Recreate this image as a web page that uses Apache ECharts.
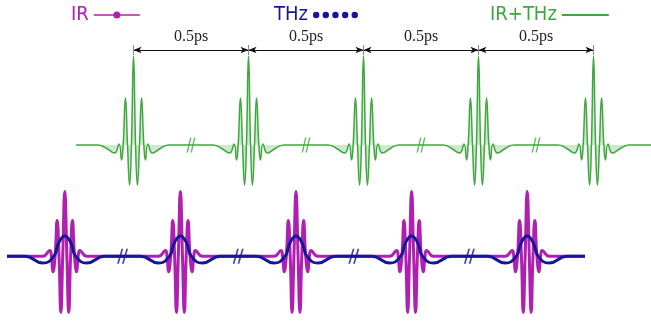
<!DOCTYPE html>
<html>
<head>
<meta charset="utf-8">
<script src="https://cdn.jsdelivr.net/npm/echarts@6/dist/echarts.min.js"></script>
<style>
  html, body { margin: 0; padding: 0; background: #fff; }
  #chart { width: 651px; height: 324px; }
</style>
</head>
<body>
<div id="chart"></div>
<script>
  // pulse centres and break marks, in fs
  var pulseCenters = [0, 500, 1000, 1500, 2000]
  var breakTimes = [250, 750, 1250, 1750]
  var spanLabel = '0.5ps'

  // IR+THz pulse (top trace): time offset (fs) / amplitude
  var mixT = [-155, -120, -82, -63, -52, -45, -35, -26, -17, -9, 0, 9, 17, 26, 35, 45, 52, 63, 82, 120, 155]
  var mixV = [0, -3, -8, 1, -15, 0, 47, 0, -40, 0, 89, 0, -40, 0, 47, 0, -15, 1, -8, -3, 0]

  // IR pulse (bottom, purple)
  var irT = [-95, -65, -58, -51, -42, -33, -25, -17, -9, 0, 9, 17, 25, 33, 42, 51, 58, 65, 95]
  var irV = [0, 6, 0, -16, 0, 37, 0, -58, 0, 67, 0, -58, 0, 37, 0, -16, 0, 6, 0]

  // THz pulse (bottom, blue)
  var thzT = [-173, -95, -48, -26, 0, 26, 48, 95, 173]
  var thzV = [0, -7, 0, 14, 21, 14, 0, -7, 0]

  var GREEN = '#3ea83e'
  var PURPLE = '#b020b0'
  var NAVY = '#16169c'

  function train(offs, vals) {
    var pts = [[-250, 0]]
    pulseCenters.forEach(function (c) {
      offs.forEach(function (o, i) {
        pts.push([c + o, vals[i]])
      })
    })
    pts.push([2250, 0])
    return pts
  }

  var breakPath = 'path://M0,14 L4,0 L5.6,0 L1.6,14 Z M4.4,14 L8.4,0 L10,0 L6,14 Z'
  var breakPts = breakTimes.map(function (t) { return [t, 0] })

  // dimension arrows + ticks above the top trace
  var dimLines = []
  for (var i = 0; i < pulseCenters.length - 1; i++) {
    dimLines.push([
      { name: spanLabel, coord: [pulseCenters[i], 95], symbol: 'arrow', label: { show: true } },
      { coord: [pulseCenters[i + 1], 95], symbol: 'arrow' }
    ])
  }
  pulseCenters.forEach(function (c) {
    dimLines.push([
      { coord: [c, 90], symbol: 'none', lineStyle: { color: '#888' }, label: { show: false } },
      { coord: [c, 100], symbol: 'none' }
    ])
  })

  var legendFont = "'Liberation Sans Narrow', 'DejaVu Sans Condensed', sans-serif"
  var irIcon = 'path://M0,4.2 L46,4.2 L46,5.8 L0,5.8 Z M26.5,5 A3.5,3.5 0 1 1 19.5,5 A3.5,3.5 0 1 1 26.5,5 Z'
  var thzIcon = 'path://M6.4,3.2 A3.2,3.2 0 1 1 0,3.2 A3.2,3.2 0 1 1 6.4,3.2 Z' +
    'M16,3.2 A3.2,3.2 0 1 1 9.6,3.2 A3.2,3.2 0 1 1 16,3.2 Z' +
    'M25.7,3.2 A3.2,3.2 0 1 1 19.3,3.2 A3.2,3.2 0 1 1 25.7,3.2 Z' +
    'M35.4,3.2 A3.2,3.2 0 1 1 29,3.2 A3.2,3.2 0 1 1 35.4,3.2 Z' +
    'M45,3.2 A3.2,3.2 0 1 1 38.6,3.2 A3.2,3.2 0 1 1 45,3.2 Z'
  var mixIcon = 'path://M0,0 L47,0 L47,2 L0,2 Z'

  function legendAt(name, icon, left, w, h, color) {
    return {
      data: [{ name: name, icon: icon }],
      left: left,
      top: 5,
      padding: 0,
      align: 'right',
      itemWidth: w,
      itemHeight: h,
      selectedMode: false,
      textStyle: { color: color, fontSize: 20, fontFamily: legendFont }
    }
  }

  var chart = echarts.init(document.getElementById('chart'))
  chart.setOption({
    animation: false,
    backgroundColor: '#fff',
    legend: [
      legendAt('IR', irIcon, 71, 46, 7, PURPLE),
      legendAt('THz', thzIcon, 274, 45, 6.4, NAVY),
      legendAt('IR+THz', mixIcon, 490, 47, 2, GREEN)
    ],
    grid: [
      { left: 76, width: 578, top: 45, height: 150 },
      { left: 7, width: 578, top: 179, height: 150 }
    ],
    xAxis: [
      { type: 'value', gridIndex: 0, min: -250, max: 2250, show: false },
      { type: 'value', gridIndex: 1, min: -250, max: 2250, show: false }
    ],
    yAxis: [
      { type: 'value', gridIndex: 0, min: -50, max: 100, show: false },
      { type: 'value', gridIndex: 1, min: -70, max: 80, show: false }
    ],
    series: [
      {
        name: 'IR+THz',
        type: 'line',
        xAxisIndex: 0,
        yAxisIndex: 0,
        data: train(mixT, mixV),
        smooth: 0.5,
        symbol: 'none',
        color: GREEN,
        lineStyle: { color: GREEN, width: 1.5 },
        areaStyle: { color: 'rgba(70,175,70,0.38)' },
        markLine: {
          silent: true,
          symbolSize: [5, 8],
          lineStyle: { color: '#111', width: 1, type: 'solid' },
          label: {
            show: false,
            position: 'middle',
            formatter: '{b}',
            color: '#222',
            fontSize: 16,
            fontFamily: "'Liberation Serif', serif",
            backgroundColor: '#fff',
            padding: [0, 2]
          },
          emphasis: { disabled: true },
          data: dimLines
        }
      },
      {
        type: 'scatter',
        xAxisIndex: 0,
        yAxisIndex: 0,
        data: breakPts,
        symbol: breakPath,
        symbolSize: [9, 15],
        itemStyle: { color: GREEN },
        silent: true,
        z: 4
      },
      {
        name: 'IR',
        type: 'line',
        xAxisIndex: 1,
        yAxisIndex: 1,
        data: train(irT, irV),
        smooth: 0.5,
        symbol: 'none',
        color: PURPLE,
        lineStyle: { color: PURPLE, width: 3 },
        z: 2
      },
      {
        name: 'THz',
        type: 'line',
        xAxisIndex: 1,
        yAxisIndex: 1,
        data: train(thzT, thzV),
        smooth: 0.5,
        symbol: 'none',
        color: NAVY,
        lineStyle: { color: NAVY, width: 3 },
        z: 3
      },
      {
        type: 'scatter',
        xAxisIndex: 1,
        yAxisIndex: 1,
        data: breakPts,
        symbol: breakPath,
        symbolSize: [11, 15],
        itemStyle: { color: NAVY },
        silent: true,
        z: 4
      }
    ]
  })
</script>
</body>
</html>
